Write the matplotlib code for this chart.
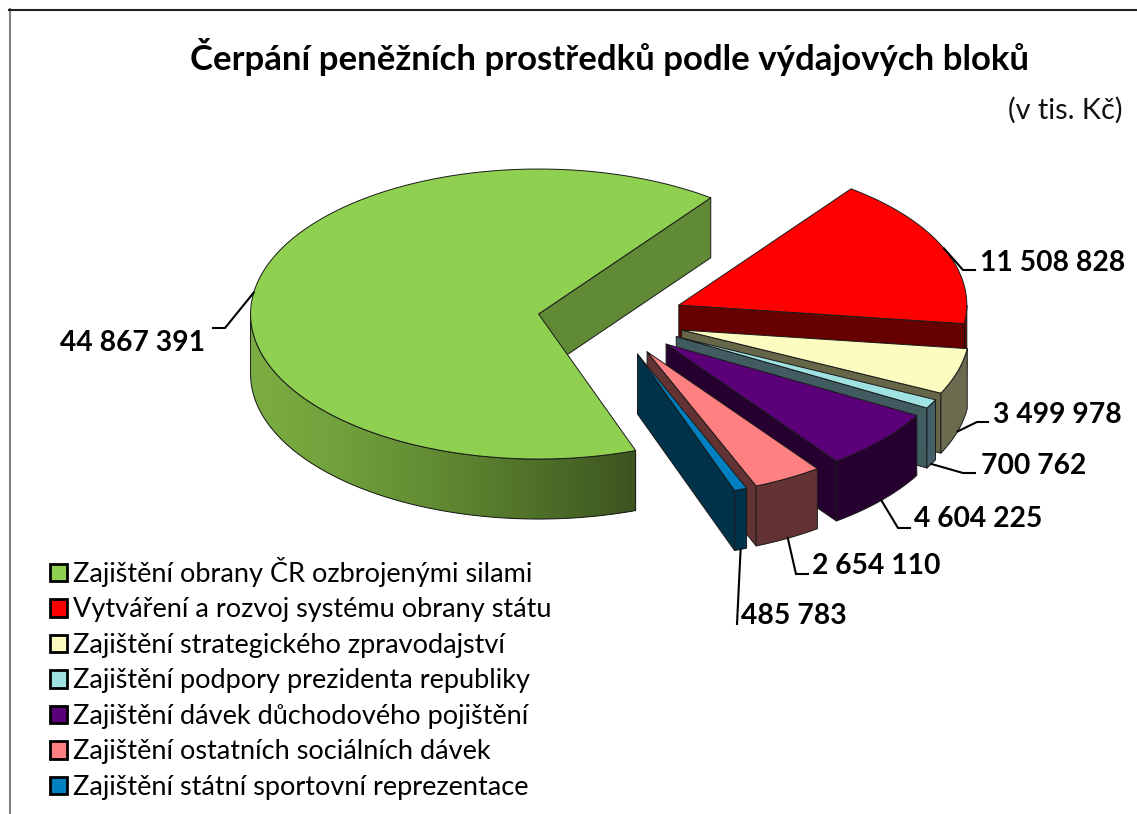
import numpy as np
import matplotlib
matplotlib.use("Agg")
import matplotlib.pyplot as plt
from matplotlib.patches import Polygon, Patch

# --- data ---
blocks = ["Zajištění obrany ČR ozbrojenými silami",
          "Vytváření a rozvoj systému obrany státu",
          "Zajištění strategického zpravodajství",
          "Zajištění podpory prezidenta republiky",
          "Zajištění dávek důchodového pojištění",
          "Zajištění ostatních sociálních dávek",
          "Zajištění státní sportovní reprezentace"]
values = [44867391, 11508828, 3499978, 700762, 4604225, 2654110, 485783]
value_labels = ["44 867 391", "11 508 828", "3 499 978", "700 762",
                "4 604 225", "2 654 110", "485 783"]

# --- style / layout ---
top_colors = ["#8fd050", "#ff0000", "#fdfcc0", "#a0e2e2", "#5c007a", "#ff8080", "#0080c0"]
radial_colors = ["#608a35", "#660000", "#666648", "#405c60", "#26002f", "#633232", "#003349"]
rim_colors = [None, "#660000", "#6b6b4f", "#46606a", "#26002f", "#633232", "#003349"]
W, H = 1137, 814
CX, CY = 611.2, 319.5      # pie centre in pixels
RX, RY = 288.0, 145.0      # top-face ellipse radii
DEPTH = 60.0
EXPLODE = 0.255            # fraction of the radius
START = -70.3              # degrees, slices run clockwise
FONT = "Lato"
label_pos = [(60, 343), (980, 263), (993, 415), (981, 466), (914, 519), (812, 566), (741, 616)]
leader_mid = [[(225, 328), (213, 328)], [(963, 270), (975, 270)], [(977, 422), (988, 422)],
              [(963, 473), (975, 473)], [(898, 528), (910, 528)], [(796, 574), (808, 574)],
              [(737, 624)]]
leader_on_top = [True, True, False, False, False, False, False]
green_ang = [-180, -160, -135, -110, -90, -70.3]
green_rgb = [(0x7c, 0xae, 0x46), (0x7a, 0xab, 0x40), (0x72, 0xa2, 0x3c),
             (0x60, 0x8a, 0x32), (0x4e, 0x6f, 0x28), (0x3c, 0x53, 0x1f)]

fig = plt.figure(figsize=(W / 100, H / 100), dpi=100)
ax = fig.add_axes([0, 0, 1, 1])
ax.set_xlim(0, W)
ax.set_ylim(H, 0)
ax.axis("off")


def rim(center, deg):
    a = np.radians(deg)
    return center[0] + RX * np.cos(a), center[1] - RY * np.sin(a)


def arc(center, a0, a1, dz=0.0, n=None):
    n = n or max(2, int(abs(a0 - a1) * 1.5) + 2)
    ang = np.linspace(a0, a1, n)
    x, y = rim(center, ang)
    return np.column_stack([x, y + dz])


EDGE = dict(edgecolor="#1a1a1a", linewidth=0.7, joinstyle="round")
total = sum(values)
a0 = START
for i, v in enumerate(values):
    sweep = 360.0 * v / total
    a0 = (a0 + 180.0) % 360.0 - 180.0
    a1 = a0 - sweep
    mid_deg = (a0 + a1) / 2
    mid = np.radians(mid_deg)
    apex = (CX + EXPLODE * RX * np.cos(mid), CY - EXPLODE * RY * np.sin(mid))

    # radial face at the clockwise end of the slice
    p = np.array(rim(apex, a1))
    q = np.array(apex)
    ax.add_patch(Polygon([q, p, p + (0, DEPTH), q + (0, DEPTH)],
                         facecolor=radial_colors[i], zorder=2 + i, **EDGE))

    # outer rim, front half only
    lo, hi = max(a1, -180.0), min(a0, 0.0)
    if hi > lo:
        if rim_colors[i] is None:
            edges = np.arange(lo, hi, 0.5)
            for s in edges:
                e = min(s + 1.5, hi)
                rgb = [np.interp(s + 0.25, green_ang, [c[j] for c in green_rgb]) / 255 for j in range(3)]
                seg = np.vstack([arc(apex, s, e, 0, 3), arc(apex, e, s, DEPTH, 3)])
                ax.add_patch(Polygon(seg, facecolor=rgb, edgecolor="none", zorder=2 + i))
            ax.add_patch(Polygon(np.vstack([arc(apex, lo, hi), arc(apex, hi, lo, DEPTH)]),
                                 fill=False, zorder=2 + i, **EDGE))
        else:
            ax.add_patch(Polygon(np.vstack([arc(apex, lo, hi), arc(apex, hi, lo, DEPTH)]),
                                 facecolor=rim_colors[i], zorder=2 + i, **EDGE))

    # top face
    ax.add_patch(Polygon(np.vstack([[apex], arc(apex, a0, a1)]),
                         facecolor=top_colors[i], zorder=2 + i, **EDGE))

    # leader line + label
    sx, sy = rim(apex, mid_deg)
    if not leader_on_top[i]:
        sy += DEPTH
    pts = [(sx, sy)] + leader_mid[i]
    ax.plot([c[0] for c in pts], [c[1] for c in pts], color="black", lw=1.5, zorder=20,
            solid_joinstyle="miter")
    ax.text(label_pos[i][0], label_pos[i][1], value_labels[i], family=FONT, weight="bold",
            fontsize=20.3, ha="left", va="center", color="black", zorder=21)
    a0 = a1

# title and unit
ax.text(609, 57, "Čerpání peněžních prostředků podle výdajových bloků", family=FONT,
        weight="bold", fontsize=25, ha="center", va="center", color="black")
ax.text(1122, 110, "(v tis. Kč)", family=FONT, fontsize=20.8, ha="right", va="center", color="#111111")

# frame
ax.plot([9.5, 9.5], [9, H], color="#808080", lw=1.5, zorder=1)
ax.plot([9, W], [9.5, 9.5], color="#202020", lw=1.5, zorder=1)

# legend
fs = 19.5
px = fs * 100 / 72
handles = [Patch(facecolor=c, edgecolor="black", linewidth=2) for c in top_colors]
leg = ax.legend(handles, blocks, loc="upper left", bbox_to_anchor=(50 / W, 1 - 557 / H),
                bbox_transform=ax.transAxes, frameon=False,
                prop=dict(family=FONT, size=fs), borderpad=0, borderaxespad=0,
                handlelength=17 / px, handleheight=17 / px, handletextpad=6 / px,
                labelspacing=0.387)
leg.set_zorder(30)

fig.savefig("out.png", dpi=100)
